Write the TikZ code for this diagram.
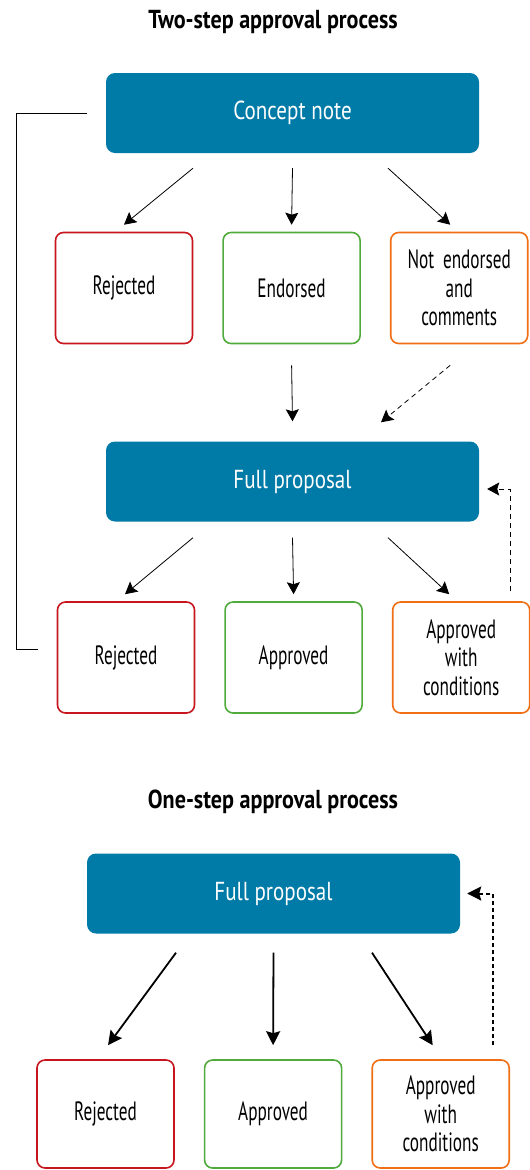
\documentclass[tikz,border=0pt]{standalone}
\usepackage{fontspec}
\usepackage{tikz}
\usepackage{xcolor}
\usetikzlibrary{arrows.meta,positioning,calc}
\setmainfont{PT Sans}
\newfontfamily\stagefont[FakeStretch=0.81]{PT Sans}
\newfontfamily\condfont[FakeStretch=0.65]{PT Sans}
\newfontfamily\titlefont[FakeStretch=0.85]{PT Sans Bold}
\definecolor{stagecolor}{RGB}{0,122,166}
\definecolor{rejectcolor}{RGB}{200,22,30}
\definecolor{acceptcolor}{RGB}{80,170,60}
\definecolor{revisecolor}{RGB}{240,110,20}

\begin{document}
\begin{tikzpicture}[
    x=1pt, y=-1pt,
    title/.style={font=\titlefont\fontsize{26}{30}\selectfont},
    stage/.style={
        rectangle, rounded corners=9pt, fill=stagecolor, draw=none,
        minimum width=373pt, minimum height=80pt,
        text=white, font=\stagefont\fontsize{26}{30}\selectfont
    },
    outcome/.style={
        rectangle, rounded corners=8pt, draw, fill=white, line width=1.6pt,
        minimum width=137pt, minimum height=111pt,
        text width=130pt, align=center,
        font=\condfont\fontsize{26.5}{28.5}\selectfont
    },
    rejected/.style={outcome, draw=rejectcolor},
    accepted/.style={outcome, draw=acceptcolor},
    revised/.style={outcome, draw=revisecolor},
    arrow/.style={-{Stealth[length=12pt,width=13pt,inset=2pt]}, line width=0.8pt},
    boldarrow/.style={-{Stealth[length=14pt,width=14pt,inset=2pt]}, line width=1.8pt}
]
\useasboundingbox (0,0) rectangle (530,1170);

% Two-step process
\node[title] (title1) at (273,22) {Two-step approval process};

\node[stage] (concept) at (292.5,113) {Concept note};

\node[rejected] (rej1) at (124,288) {Rejected};
\node[accepted, right=29pt of rej1] (end1) {Endorsed};
\node[revised, right=29pt of end1] (note1) {Not endorsed\\and\\comments};

\node[stage] (full1) at (292.5,481.5) {Full proposal};

\node[rejected] (rej2) at (126,657.5) {Rejected};
\node[accepted, right=29pt of rej2] (app2) {Approved};
\node[revised, right=29pt of app2] (cond2) {Approved\\with\\conditions};

% One-step process
\node[title] (title2) at (273,802) {One-step approval process};

\node[stage] (full2) at (273.5,893.5) {Full proposal};

\node[rejected, minimum height=108pt] (rej3) at (105.5,1114) {Rejected};
\node[accepted, minimum height=108pt, right=29pt of rej3] (app3) {Approved};
\node[revised, minimum height=108pt, right=29pt of app3] (cond3) {Approved\\with\\conditions};

% Arrows
\draw[arrow] ([xshift=-99.5pt,yshift=-15pt]concept.south) -- ([yshift=7pt]rej1.north);
\draw[arrow] ([yshift=-15pt]concept.south) -- ([yshift=7pt]end1.north);
\draw[arrow] ([xshift=95.5pt,yshift=-15pt]concept.south) -- ([xshift=-9pt,yshift=7pt]note1.north);

\draw[arrow] ([yshift=-21pt]end1.south) -- ([yshift=20pt]full1.north);
\draw[arrow, dash pattern=on 5pt off 4pt]
    ([xshift=-9pt,yshift=-21pt]note1.south) -- ([xshift=88.5pt,yshift=19pt]full1.north);

\draw[arrow] ([xshift=-99.5pt,yshift=-16pt]full1.south) -- ([xshift=-1pt,yshift=7pt]rej2.north);
\draw[arrow] ([yshift=-16pt]full1.south) -- ([yshift=7pt]app2.north);
\draw[arrow] ([xshift=95.5pt,yshift=-16pt]full1.south) -- ([xshift=-12pt,yshift=7pt]cond2.north);

\draw[boldarrow] ([xshift=-97.5pt,yshift=-19pt]full2.south) -- ([xshift=2.5pt,yshift=14pt]rej3.north);
\draw[boldarrow] ([yshift=-19pt]full2.south) -- ([yshift=14pt]app3.north);
\draw[boldarrow] ([xshift=98.5pt,yshift=-19pt]full2.south) -- ([xshift=-8pt,yshift=14pt]cond3.north);

% Feedback loops
\draw[line width=0.8pt] ([xshift=-19pt]concept.west) -- ++(-70,0)
    |- ([xshift=-19pt,yshift=8.5pt]rej2.west);

\draw[arrow, dash pattern=on 5pt off 4pt]
    ([xshift=49pt,yshift=10pt]cond2.north) |- ([xshift=8pt,yshift=-7.5pt]full1.east);

\draw[boldarrow, line width=2pt, dash pattern=on 4pt off 3pt]
    ([xshift=52pt,yshift=14pt]cond3.north) |- ([xshift=7pt]full2.east);

\end{tikzpicture}
\end{document}
